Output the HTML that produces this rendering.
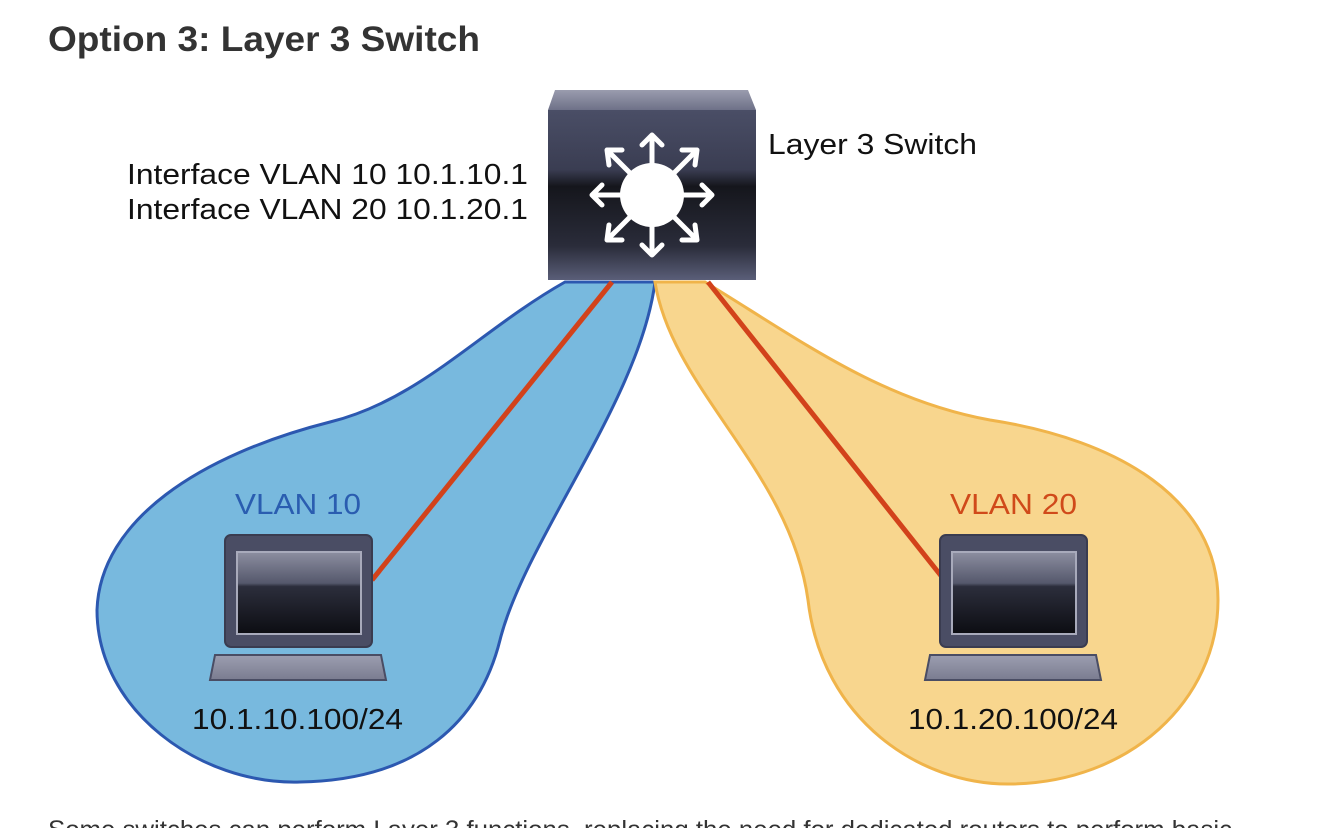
<!DOCTYPE html>
<html><head><meta charset="utf-8"><style>
html,body{margin:0;padding:0;background:#fff;width:1334px;height:828px;overflow:hidden}
svg{display:block}
</style></head><body>
<svg width="1334" height="828" viewBox="0 0 1334 828" xmlns="http://www.w3.org/2000/svg" font-family="Liberation Sans, sans-serif">
<defs>
<linearGradient id="sw" x1="0" y1="0" x2="0" y2="1">
<stop offset="0" stop-color="#4a4e66"/><stop offset="0.35" stop-color="#3a3d52"/>
<stop offset="0.45" stop-color="#15161c"/><stop offset="0.8" stop-color="#2a2c3a"/><stop offset="1" stop-color="#5a5e78"/>
</linearGradient>
<linearGradient id="top" x1="0" y1="0" x2="0" y2="1"><stop offset="0" stop-color="#9a9cae"/><stop offset="1" stop-color="#6e7188"/></linearGradient>
<linearGradient id="scr" x1="0" y1="0" x2="0" y2="1">
<stop offset="0" stop-color="#8c8ea0"/><stop offset="0.38" stop-color="#55586c"/><stop offset="0.42" stop-color="#2c2e3c"/><stop offset="1" stop-color="#0c0d12"/>
</linearGradient>
<linearGradient id="kb" x1="0" y1="0" x2="0" y2="1"><stop offset="0" stop-color="#9c9eb0"/><stop offset="1" stop-color="#7a7c90"/></linearGradient>
</defs>
<text x="48" y="51" font-size="35" font-weight="bold" fill="#333" textLength="432" lengthAdjust="spacingAndGlyphs">Option 3: Layer 3 Switch</text>

<path d="M565,282 C480,330 420,400 330,422 C200,455 100,520 97,610 C97,710 200,785 300,782 C420,780 480,720 500,640 C525,540 640,400 655,282 Z" fill="#78b9de" stroke="#2c58b0" stroke-width="3"/>
<path d="M655,282 C672,390 790,470 808,600 C822,720 920,785 1010,784 C1130,783 1218,700 1218,600 C1218,500 1120,440 990,420 C880,400 800,340 705,282 Z" fill="#f8d68e" stroke="#f0b44a" stroke-width="3"/>

<line x1="612" y1="282" x2="372" y2="580" stroke="#d2421b" stroke-width="5"/>
<line x1="708" y1="282" x2="942" y2="577" stroke="#d2421b" stroke-width="5"/>

<path d="M555,90 L748,90 L756,110 L548,110 Z" fill="url(#top)"/>
<rect x="548" y="110" width="208" height="170" fill="url(#sw)"/>
<g stroke="#fff" stroke-width="5" fill="none" stroke-linecap="round" stroke-linejoin="round">
<line x1="652" y1="170" x2="652" y2="137"/><polyline points="642,145 652,135 662,145"/>
<line x1="652" y1="220" x2="652" y2="253"/><polyline points="642,245 652,255 662,245"/>
<line x1="627" y1="195" x2="594" y2="195"/><polyline points="602,185 592,195 602,205"/>
<line x1="677" y1="195" x2="710" y2="195"/><polyline points="702,185 712,195 702,205"/>
<line x1="634" y1="177" x2="609" y2="152"/><polyline points="609,165 607,150 622,150"/>
<line x1="670" y1="177" x2="695" y2="152"/><polyline points="682,150 697,150 695,165"/>
<line x1="634" y1="213" x2="609" y2="238"/><polyline points="609,225 607,240 622,240"/>
<line x1="670" y1="213" x2="695" y2="238"/><polyline points="682,240 697,240 695,225"/>
</g>
<circle cx="652" cy="195" r="32" fill="#fff"/>

<text x="768" y="154" font-size="29" fill="#111" textLength="209" lengthAdjust="spacingAndGlyphs">Layer 3 Switch</text>
<text x="127" y="184" font-size="29" fill="#111" textLength="401" lengthAdjust="spacingAndGlyphs">Interface VLAN 10 10.1.10.1</text>
<text x="127" y="219" font-size="29" fill="#111" textLength="401" lengthAdjust="spacingAndGlyphs">Interface VLAN 20 10.1.20.1</text>

<text x="235" y="514" font-size="29" fill="#2a5db0" textLength="126" lengthAdjust="spacingAndGlyphs">VLAN 10</text>
<text x="950" y="514" font-size="29" fill="#d04a1a" textLength="127" lengthAdjust="spacingAndGlyphs">VLAN 20</text>

<g>
<rect x="225" y="535" width="147" height="112" rx="6" fill="#4a4d64" stroke="#3a3c50" stroke-width="2"/>
<rect x="237" y="552" width="124" height="82" fill="url(#scr)" stroke="#a8aabb" stroke-width="2"/>
<path d="M215,655 L381,655 L386,680 L210,680 Z" fill="url(#kb)" stroke="#4a4d64" stroke-width="2"/>
</g>
<g>
<rect x="940" y="535" width="147" height="112" rx="6" fill="#4a4d64" stroke="#3a3c50" stroke-width="2"/>
<rect x="952" y="552" width="124" height="82" fill="url(#scr)" stroke="#a8aabb" stroke-width="2"/>
<path d="M930,655 L1096,655 L1101,680 L925,680 Z" fill="url(#kb)" stroke="#4a4d64" stroke-width="2"/>
</g>

<text x="192" y="729" font-size="29" fill="#111" textLength="211" lengthAdjust="spacingAndGlyphs">10.1.10.100/24</text>
<text x="908" y="729" font-size="29" fill="#111" textLength="210" lengthAdjust="spacingAndGlyphs">10.1.20.100/24</text>

<text x="48" y="838" font-size="25" fill="#333" textLength="1184" lengthAdjust="spacingAndGlyphs">Some switches can perform Layer 3 functions, replacing the need for dedicated routers to perform basic</text>
</svg>
</body></html>
